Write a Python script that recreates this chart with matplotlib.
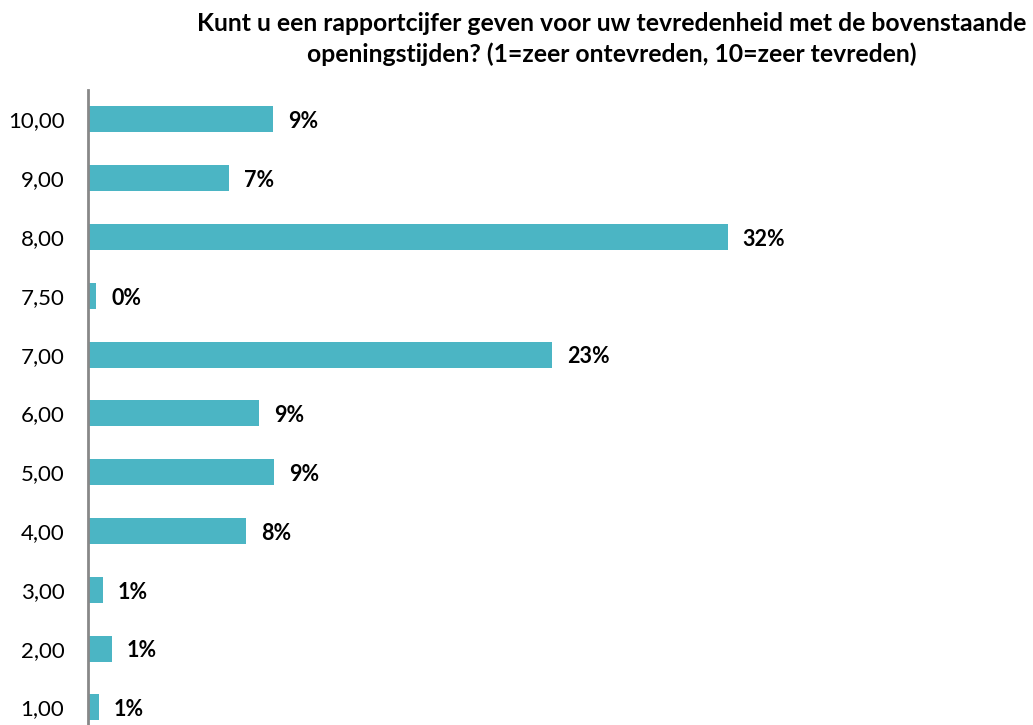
import matplotlib
matplotlib.use("Agg")
import matplotlib.pyplot as plt

categories = ["1,00", "2,00", "3,00", "4,00", "5,00", "6,00", "7,00", "7,50", "8,00", "9,00", "10,00"]
values = [0.55, 1.20, 0.75, 7.89, 9.29, 8.54, 23.18, 0.40, 31.94, 7.04, 9.22]
labels = ["1%", "1%", "1%", "8%", "9%", "9%", "23%", "0%", "32%", "7%", "9%"]
title = "Kunt u een rapportcijfer geven voor uw tevredenheid met de bovenstaande\nopeningstijden? (1=zeer ontevreden, 10=zeer tevreden)"

plt.rcParams['font.family'] = ['Lato', 'DejaVu Sans']

W, H = 1033, 725
fig = plt.figure(figsize=(W / 100, H / 100), dpi=100)
x0 = 88
px_per_unit = 20.03
xmax = (W - x0) / px_per_unit
top_px = 90
spacing = 58.8
bottom_px = top_px + 11 * spacing
ax = fig.add_axes([x0 / W, 1 - bottom_px / H, (W - x0) / W, (bottom_px - top_px) / H])

ypos = list(range(len(categories)))
ax.barh(ypos, values, height=0.44, color="#4BB5C4", zorder=2)
for y, v, lab in zip(ypos, values, labels):
    ax.text(v + 15 / px_per_unit, y - 0.04, lab, va="center", ha="left",
            fontsize=15.5, fontweight="bold", color="black")

ax.set_xlim(0, xmax)
ax.set_ylim(-0.5, len(categories) - 0.5)
ax.set_yticks(ypos)
ax.set_yticklabels(categories, fontsize=16)
ax.tick_params(axis="y", length=0, pad=17)
ax.set_xticks([])
for s in ["top", "right", "bottom"]:
    ax.spines[s].set_visible(False)
ax.spines["left"].set_color("#888888")
ax.spines["left"].set_linewidth(2)

fig.text(612 / W, 1 - 39 / H, title, ha="center", va="center",
         fontsize=17.8, fontweight="bold", linespacing=1.4)

fig.savefig("out.png", dpi=100)
